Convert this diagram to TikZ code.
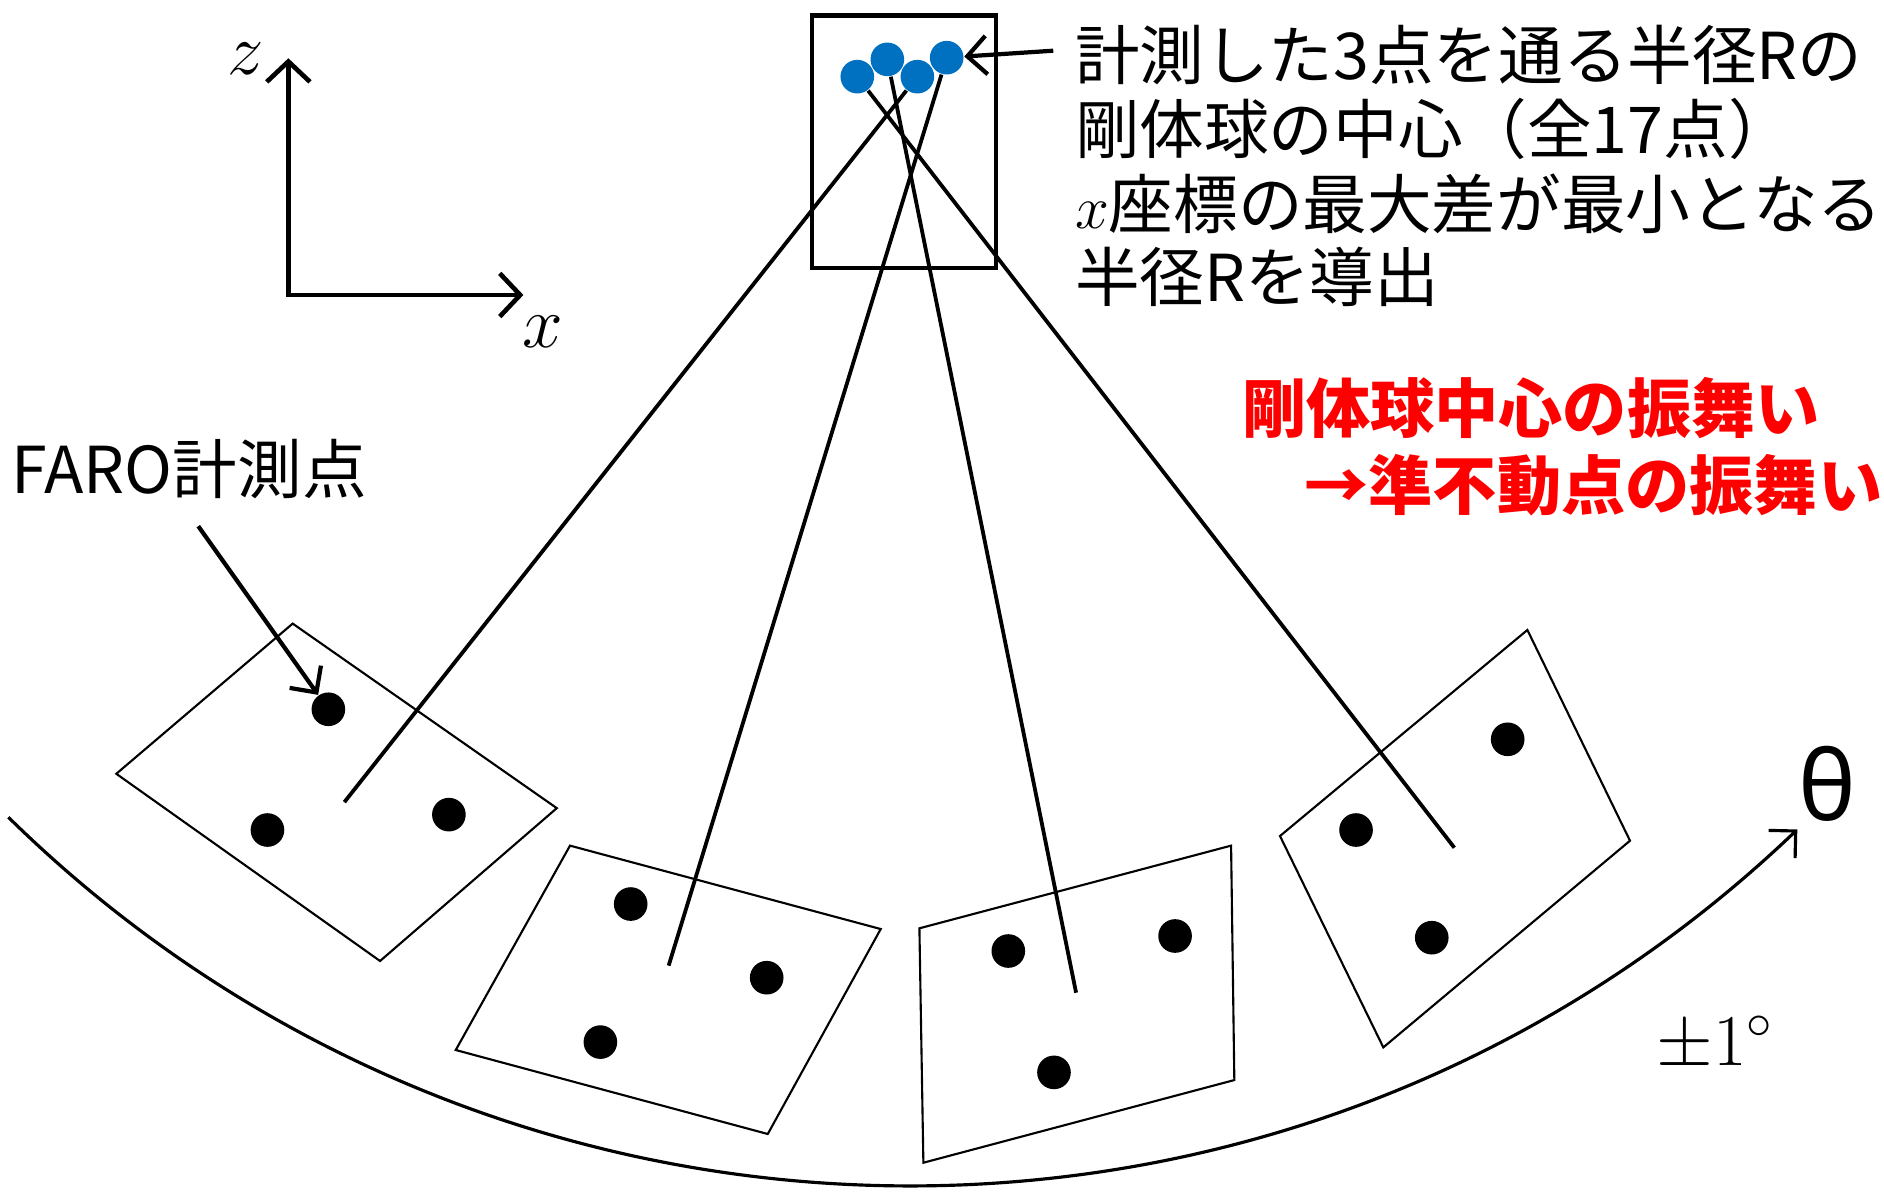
\documentclass[tikz,border=0pt]{standalone}
\usepackage{fontspec}
\usetikzlibrary{arrows.meta}
\newfontfamily\jp{Noto Sans CJK JP}
\newfontfamily\grk{Noto Sans}
\definecolor{sphereblue}{RGB}{0,112,192}
\definecolor{hlred}{RGB}{255,0,0}
\tikzset{
  axisline/.style={line width=1.1pt, line join=miter, {Straight Barb[length=1.7mm,width=3.6mm]}-{Straight Barb[length=1.7mm,width=3.6mm]}},
  quadline/.style={line width=0.5pt, line join=miter},
  connline/.style={line width=0.9pt},
  calloutline/.style={line width=1pt, -{Straight Barb[length=1.6mm,width=3.2mm]}},
  arcline/.style={line width=0.75pt, -{Straight Barb[length=1.6mm,width=3.2mm]}},
  fdot/.style={circle, fill=black, inner sep=0pt, minimum size=2.8mm},
  bdot/.style={circle, fill=sphereblue, inner sep=0pt, minimum size=2.8mm},
  jptext/.style={inner sep=0pt, font=\jp\fontsize{15.3pt}{17.6pt}\selectfont},
  redtext/.style={inner sep=0pt, text=hlred, font=\jp\bfseries\fontsize{15.2pt}{17.6pt}\selectfont},
  mathlbl/.style={inner sep=0pt, font=\fontsize{18pt}{21pt}\selectfont},
  framebox/.style={draw, line width=1.1pt, inner sep=0pt, anchor=north west, minimum width=15.3mm, minimum height=21mm}
}
\begin{document}
\begin{tikzpicture}[x=0.1mm,y=-0.1mm]
\useasboundingbox (0,0) rectangle (1568,995);

% axes
\coordinate (O) at (240,245.5);
\coordinate (Zt) at (240,48.5);
\coordinate (Xt) at (435.6,245.5);
\draw[axisline] (Zt) -- (O) -- (Xt);
\node[mathlbl, anchor=base] (zl) at (204.6,62.4) {$z$};
\node[mathlbl, anchor=base] (xl) at (451.5,289) {$x$};

% top box
\node[framebox] (topbox) at (674,11) {};

% quadrilaterals
\coordinate (q1a) at (243.6,519);
\coordinate (q1b) at (463.4,672.6);
\coordinate (q1c) at (316.3,799.8);
\coordinate (q1d) at (96.8,644);
\draw[quadline] (q1a) -- (q1b) -- (q1c) -- (q1d) -- cycle;
\coordinate (q2a) at (474.4,703.8);
\coordinate (q2b) at (733,773.2);
\coordinate (q2c) at (639,943.8);
\coordinate (q2d) at (379.3,873.9);
\draw[quadline] (q2a) -- (q2b) -- (q2c) -- (q2d) -- cycle;
\coordinate (q3a) at (765.2,772.6);
\coordinate (q3b) at (1024.6,703.8);
\coordinate (q3c) at (1027.3,898.9);
\coordinate (q3d) at (768.5,967.7);
\draw[quadline] (q3a) -- (q3b) -- (q3c) -- (q3d) -- cycle;
\coordinate (q4a) at (1271.2,524.3);
\coordinate (q4b) at (1356.6,699.7);
\coordinate (q4c) at (1151.3,871.7);
\coordinate (q4d) at (1065.3,695.8);
\draw[quadline] (q4a) -- (q4b) -- (q4c) -- (q4d) -- cycle;

% measured points
\node[fdot] (p11) at (273.3,590.3) {};
\node[fdot] (p12) at (222.6,690.8) {};
\node[fdot] (p13) at (373.6,678) {};
\node[fdot] (p21) at (524.9,752.4) {};
\node[fdot] (p22) at (638.1,813.7) {};
\node[fdot] (p23) at (499.7,867.3) {};
\node[fdot] (p31) at (839.2,791.5) {};
\node[fdot] (p32) at (978,779) {};
\node[fdot] (p33) at (877.2,892.5) {};
\node[fdot] (p41) at (1254.8,615.3) {};
\node[fdot] (p42) at (1128.6,690.8) {};
\node[fdot] (p43) at (1191.6,780.4) {};

% sphere centres
\node[bdot] (b1) at (713.5,63.8) {};
\node[bdot] (b2) at (738.5,49.4) {};
\node[bdot] (b3) at (763.5,63.8) {};
\node[bdot] (b4) at (787.9,48) {};

% connectors
\coordinate (e1) at (286.6,667.6);
\coordinate (e2) at (556.5,803.7);
\coordinate (e3) at (895.6,826.2);
\coordinate (e4) at (1210.4,705.5);
\draw[connline] (b3) -- (e1);
\draw[connline] (b4) -- (e2);
\draw[connline] (b2) -- (e3);
\draw[connline] (b1) -- (e4);

% callouts
\coordinate (faroS) at (165,437.9);
\draw[calloutline] (faroS) -- (p11);
\coordinate (topS) at (876.6,42.2);
\draw[calloutline] (topS) -- (b4);

% rotation arc
\coordinate (arcS) at (7,680.2);
\draw[arcline] (arcS) arc[start angle=134.48, end angle=46.3, radius=1070];

% texts
\node[jptext, anchor=base west] (t1) at (894,66) {計測した3点を通る半径Rの};
\node[jptext, anchor=base west] (t2) at (894,127.6) {剛体球の中心（全17点）};
\node[jptext, anchor=base west] (t3) at (894,190) {$x$座標の最大差が最小となる};
\node[jptext, anchor=base west] (t4) at (894,251) {半径Rを導出};
\node[redtext, anchor=west] (r1) at (1033,340) {剛体球中心の振舞い};
\node[redtext, anchor=west] (r2) at (1085,404) {→準不動点の振舞い};
\node[jptext, anchor=base west] (faro) at (9,410.5) {FARO計測点};
\node[inner sep=0pt, font=\grk\fontsize{23pt}{26pt}\selectfont] (th) at (1521,652) {θ};
\node[inner sep=0pt, anchor=base west, font=\fontsize{17pt}{20pt}\selectfont] (pm) at (1378,886.4) {$\pm1^{\circ}$};
\end{tikzpicture}
\end{document}
